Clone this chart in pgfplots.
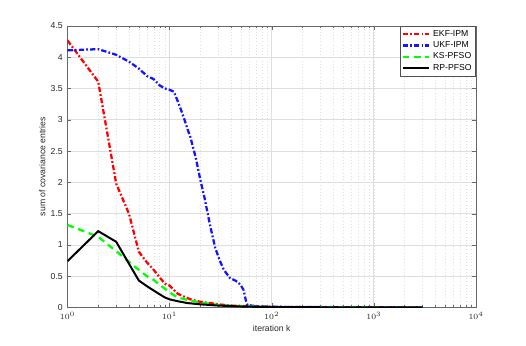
\documentclass[border=0pt]{standalone}
\usepackage{fontspec}
\setmainfont{Liberation Sans}
\usepackage{pgfplots}
\pgfplotsset{compat=1.18}
\definecolor{axgray}{RGB}{38,38,38}
\definecolor{gridgray}{RGB}{222,222,222}
\definecolor{mred}{RGB}{255,0,0}
\definecolor{mblue}{RGB}{20,20,255}
\definecolor{mgreen}{RGB}{0,255,0}

\begin{document}
\begin{tikzpicture}[x=1pt,y=1pt]
\path[use as bounding box] (-50.6,-28.9) rectangle (343.9,230.6);
\begin{axis}[
    at={(0,0)}, anchor=south west,
    scale only axis,
    width=306.4pt, height=211.1pt,
    xmode=log,
    xmin=1, xmax=10000,
    ymin=0, ymax=4.5,
    ytick={0,0.5,...,4.5},
    yticklabels={0,0.5,1,1.5,2,2.5,3,3.5,4,4.5},
    xlabel={iteration k},
    ylabel={sum of covariance entries},
    font=\fontsize{6.5}{8}\selectfont,
    tick label style={font=\fontsize{6.5}{8}\selectfont, text=axgray},
    label style={text=axgray},
    xlabel style={yshift=3pt},
    ylabel style={yshift=-3pt},
    axis line style={axgray!70, line width=0.5pt},
    tick style={axgray!70},
    tick align=inside,
    major tick length=3pt, minor tick length=1.8pt,
    grid=both,
    major grid style={gridgray, line width=0.6pt},
    minor grid style={gridgray, dotted, line width=0.4pt},
    yminorgrids=false,
    legend style={at={(1,1)}, anchor=north east, draw=axgray!80,
        font=\fontsize{6.5}{7.5}\selectfont, inner sep=1pt,
        row sep=-1.5pt, cells={anchor=west}},
    legend cell align=left,
    legend image code/.code={\draw[#1] (0pt,0pt) -- (20pt,0pt);},
    legend plot pos=left,
]
\addplot[draw=mred, line width=1.7pt, dash pattern=on 4pt off 1.6pt on 1.3pt off 1.6pt] coordinates {
(1,4.27)(2,3.61)(3,1.98)(4,1.5)(5,0.89)(6,0.72)(7,0.6)(8,0.48)(9,0.38)(10,0.35)
(11,0.28)(12,0.22)(14,0.17)(16,0.13)(20,0.09)(25,0.07)(30,0.05)(40,0.03)(60,0.02)
(100,0.01)(200,0.005)(3000,0)};
\addlegendentry{EKF-IPM}
\addplot[draw=mblue, line width=1.7pt, dash pattern=on 4pt off 1.6pt on 1.3pt off 1.6pt] coordinates {
(1,4.11)(2,4.13)(3,4.04)(4,3.93)(5,3.82)(6,3.7)(7,3.65)(8,3.55)(9,3.5)(10,3.48)
(11,3.45)(12,3.3)(13,3.15)(14,3.0)(15,2.85)(16,2.72)(18,2.4)(20,2.04)(22,1.75)
(25,1.3)(28,0.95)(31,0.75)(34,0.6)(39,0.47)(44,0.43)(47,0.4)(50,0.35)(53,0.28)
(56,0.1)(58,0.04)(70,0.02)(100,0.01)(3000,0)};
\addlegendentry{UKF-IPM}
\addplot[draw=mgreen, line width=1.7pt, dash pattern=on 5pt off 3.5pt] coordinates {
(1,1.32)(2,1.13)(3,0.9)(4,0.73)(5,0.6)(6,0.5)(7,0.44)(8,0.36)(9,0.3)(10,0.24)
(12,0.16)(15,0.12)(20,0.08)(30,0.04)(50,0.02)(100,0.005)(3000,0)};
\addlegendentry{KS-PFSO}
\addplot[draw=black, line width=1.5pt] coordinates {
(1,0.74)(2,1.22)(3,1.05)(4,0.7)(5,0.43)(6,0.34)(7,0.27)(8,0.21)(9,0.16)(10,0.13)
(12,0.1)(15,0.07)(20,0.05)(30,0.03)(50,0.015)(100,0.005)(3000,0)};
\addlegendentry{RP-PFSO}
\end{axis}
\end{tikzpicture}
\end{document}
